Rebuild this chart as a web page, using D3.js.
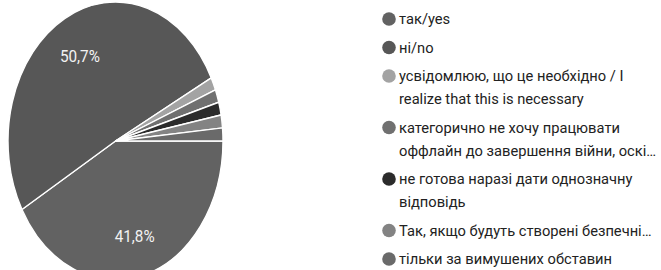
<!DOCTYPE html>
<html>
<head>
<meta charset="utf-8">
<script src="https://cdn.jsdelivr.net/npm/d3@7"></script>
<style>
  body { margin: 0; background: #fff; }
  svg { display: block; font-family: Roboto, "Noto Sans", sans-serif; }
</style>
</head>
<body>
<div id="chart"></div>
<script>
// answers, in legend order
var categories = [
  "так/yes",
  "ні/no",
  "усвідомлюю, що це необхідно / I realize that this is necessary",
  "категорично не хочу працювати оффлайн до завершення війни, оскі…",
  "не готова наразі дати однозначну відповідь",
  "Так, якщо будуть створені безпечні…",
  "тільки за вимушених обставин"
];
// how the legend wraps each answer
var legendLines = [
  ["так/yes"],
  ["ні/no"],
  ["усвідомлюю, що це необхідно / I", "realize that this is necessary"],
  ["категорично не хочу працювати", "оффлайн до завершення війни, оскі…"],
  ["не готова наразі дати однозначну", "відповідь"],
  ["Так, якщо будуть створені безпечні…"],
  ["тільки за вимушених обставин"]
];
var percents = [41.8, 50.7, 1.5, 1.5, 1.5, 1.5, 1.5];
var colors = ["#626262", "#575757", "#a3a3a3", "#707070", "#2b2b2b", "#838383", "#6a6a6a"];

var width = 661, height = 270;
var cx = 115.5, cy = 141, ry = 139, rx = 107.5;
var sx = rx / ry;

var svg = d3.select("#chart")
  .append("svg")
    .attr("width", width)
    .attr("height", height);

var data = categories.map(function(c, i) { return {name: c, value: percents[i], color: colors[i]}; });

// starts at 3 o'clock, clockwise
var pie = d3.pie()
    .value(function(d) { return d.value; })
    .sort(null)
    .startAngle(Math.PI / 2)
    .endAngle(Math.PI / 2 + 2 * Math.PI);

var arcs = pie(data);

var arc = d3.arc().innerRadius(0).outerRadius(ry);
var labelArc = d3.arc().innerRadius(ry * 0.7).outerRadius(ry * 0.7);

var g = svg.append("g")
    .attr("transform", "translate(" + cx + "," + cy + ") scale(" + sx + ",1)");

g.selectAll("path")
  .data(arcs)
  .enter()
  .append("path")
    .attr("d", arc)
    .attr("fill", function(d) { return d.data.color; })
    .attr("stroke", "#fff")
    .attr("stroke-width", 1.4)
    .attr("vector-effect", "non-scaling-stroke");

// percent labels only on the big slices
svg.selectAll("text.pct")
  .data(arcs.filter(function(d) { return d.data.value > 5; }))
  .enter()
  .append("text")
    .attr("class", "pct")
    .attr("transform", function(d) {
      var c = labelArc.centroid(d);
      return "translate(" + (cx + c[0] * sx) + "," + (cy + c[1] + 1) + ") scale(0.9,1)";
    })
    .attr("text-anchor", "middle")
    .attr("dominant-baseline", "central")
    .style("font-size", "17px")
    .style("fill", "#f2f2f2")
    .text(function(d) { return d.data.value.toFixed(1).replace(".", ",") + "%"; });

// legend
var legX = 389, textX = 399, y = 19;
var lineGap = 23, itemGap = 28.5;

legendLines.forEach(function(lines, i) {
  svg.append("circle")
    .attr("cx", legX)
    .attr("cy", y)
    .attr("r", 6.8)
    .attr("fill", colors[i]);
  var t = svg.append("text")
    .attr("x", textX)
    .attr("y", y)
    .attr("dominant-baseline", "central")
    .style("font-size", "14.7px")
    .style("fill", "#222");
  lines.forEach(function(l, j) {
    t.append("tspan")
      .attr("x", textX)
      .attr("dy", j === 0 ? 0 : lineGap)
      .text(l);
  });
  y += (lines.length - 1) * lineGap + itemGap;
});
</script>
</body>
</html>
